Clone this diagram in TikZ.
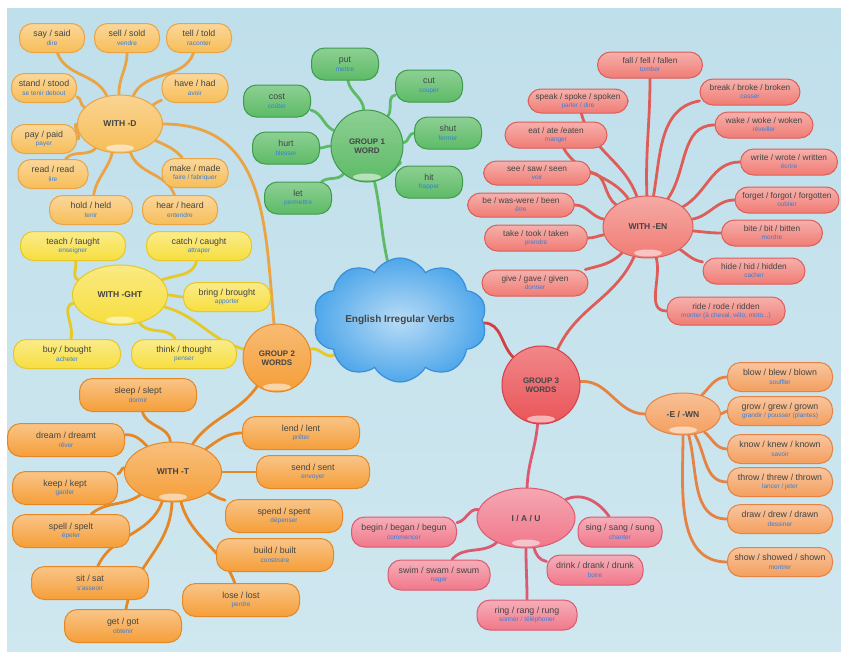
\documentclass[tikz,border=0pt]{standalone}
\usepackage{fontspec}
\setmainfont{Liberation Sans}
\usetikzlibrary{shapes.geometric,shapes.symbols,backgrounds}

\definecolor{bgtop}{HTML}{BFDFEB}
\definecolor{bgbot}{HTML}{CFE7EF}
\definecolor{ink}{HTML}{444444}
\definecolor{trblue}{HTML}{3A7DD8}
\definecolor{dOr}{HTML}{F7BD58}
\definecolor{dOrD}{HTML}{EBA443}
\definecolor{gYe}{HTML}{F7DE3E}
\definecolor{gYeD}{HTML}{E6C826}
\definecolor{tOr}{HTML}{F59E38}
\definecolor{tOrD}{HTML}{E68725}
\definecolor{grn}{HTML}{5DBB66}
\definecolor{grnD}{HTML}{3E9B4C}
\definecolor{enR}{HTML}{F07C74}
\definecolor{enRD}{HTML}{DF5D58}
\definecolor{gthR}{HTML}{EA5458}
\definecolor{gthRD}{HTML}{D43F44}
\definecolor{wnO}{HTML}{F49F5E}
\definecolor{wnOD}{HTML}{E58244}
\definecolor{iauP}{HTML}{F0788A}
\definecolor{iauPD}{HTML}{DC5A70}
\definecolor{cldB}{HTML}{4FA7EA}
\definecolor{cldD}{HTML}{3A8FD9}

% verb forms on top, French meaning below
\newcommand\vpair[2]{#1\\[-1pt]{\fontsize{6.5}{7}\selectfont\color{trblue}#2}}

\tikzset{
  leafbase/.style={rectangle, rounded corners=13pt, minimum height=29, inner sep=1pt,
    align=center, text=ink, font=\fontsize{8.8}{9.5}\selectfont, line width=1pt},
  dleaf/.style={leafbase, minimum width=66, top color=dOr!60!white, bottom color=dOr, draw=dOrD},
  gleaf/.style={leafbase, minimum width=105, top color=gYe!60!white, bottom color=gYe, draw=gYeD},
  tleaf/.style={leafbase, minimum width=117, minimum height=33, top color=tOr!60!white, bottom color=tOr, draw=tOrD},
  oneleaf/.style={leafbase, minimum width=67, minimum height=32, top color=grn!70!white, bottom color=grn, draw=grnD},
  enleaf/.style={leafbase, minimum width=102, minimum height=26, font=\fontsize{8.3}{9}\selectfont,
    top color=enR!60!white, bottom color=enR, draw=enRD},
  wnleaf/.style={leafbase, minimum width=105, top color=wnO!60!white, bottom color=wnO, draw=wnOD},
  iauleaf/.style={leafbase, minimum width=102, minimum height=30, top color=iauP!60!white, bottom color=iauP, draw=iauPD},
  gloss/.style={path picture={\fill[white, opacity=0.55]
      ([yshift=5pt]path picture bounding box.south) ellipse [x radius=14pt, y radius=3.5pt];}},
  hubbase/.style={ellipse, align=center, text=ink, font=\bfseries\fontsize{8.5}{10}\selectfont,
    line width=1pt, inner sep=0pt, gloss},
  ringhub/.style={circle, align=center, text=ink, font=\bfseries\fontsize{8}{9.5}\selectfont,
    line width=1pt, inner sep=0pt, gloss},
  con/.style={line width=2.8pt, line cap=round},
}

\begin{document}
\begin{tikzpicture}[x=1pt,y=-1pt]
\useasboundingbox (0,0) rectangle (841,651);

% ---------- central cloud ----------
\node[cloud, cloud puffs=10, cloud puff arc=120, aspect=1.65, minimum width=160, minimum height=94,
  inner color=cldB!40!white, outer color=cldB, draw=cldD, line width=1.2pt,
  text=ink, font=\bfseries\fontsize{10}{11}\selectfont] (cloud) at (400,320) {English Irregular Verbs};

% ---------- group 1 ----------
\node[ringhub, minimum size=72, top color=grn!70!white, bottom color=grn, draw=grnD] (g1) at (367,146) {GROUP 1\\WORD};
\node[oneleaf] (put)  at (345,64)  {\vpair{put}{mettre}};
\node[oneleaf] (cut)  at (429,86)  {\vpair{cut}{couper}};
\node[oneleaf] (cost) at (277,101) {\vpair{cost}{coûter}};
\node[oneleaf] (hurt) at (286,148) {\vpair{hurt}{blesser}};
\node[oneleaf] (shut) at (448,133) {\vpair{shut}{fermer}};
\node[oneleaf] (hit)  at (429,182) {\vpair{hit}{frapper}};
\node[oneleaf] (let)  at (298,198) {\vpair{let}{permettre}};

% ---------- group 2 ----------
\node[ringhub, minimum size=68, top color=tOr!70!white, bottom color=tOr, draw=tOrD] (g2) at (277,358) {GROUP 2\\WORDS};

% with -d
\node[hubbase, minimum width=85, minimum height=58, top color=dOr!65!white, bottom color=dOr, draw=dOrD] (wd) at (120,124) {WITH -D};
\node[dleaf, minimum width=65] (say)   at (52,38)   {\vpair{say / said}{dire}};
\node[dleaf, minimum width=65] (sell)  at (127,38)  {\vpair{sell / sold}{vendre}};
\node[dleaf, minimum width=65] (tell)  at (199,38)  {\vpair{tell / told}{raconter}};
\node[dleaf, minimum width=65] (stand) at (44,88)   {\vpair{stand / stood}{se tenir debout}};
\node[dleaf] (have)  at (195,88)  {\vpair{have / had}{avoir}};
\node[dleaf, minimum width=65] (pay)   at (44,139)  {\vpair{pay / paid}{payer}};
\node[dleaf, minimum width=70] (read)  at (53,174)  {\vpair{read / read}{lire}};
\node[dleaf] (make)  at (195,173) {\vpair{make / made}{faire / fabriquer}};
\node[dleaf, minimum width=83] (hold)  at (91,210)  {\vpair{hold / held}{tenir}};
\node[dleaf, minimum width=75] (hear)  at (180,210) {\vpair{hear / heard}{entendre}};

% with -ght
\node[hubbase, minimum width=95, minimum height=60, top color=gYe!65!white, bottom color=gYe, draw=gYeD] (wg) at (120,295) {WITH -GHT};
\node[gleaf] (teach) at (73,246)  {\vpair{teach / taught}{enseigner}};
\node[gleaf] (catch) at (199,246) {\vpair{catch / caught}{attraper}};
\node[gleaf, minimum width=87] (bring) at (227,297) {\vpair{bring / brought}{apporter}};
\node[gleaf, minimum width=107] (buy) at (67,354) {\vpair{buy / bought}{acheter}};
\node[gleaf] (think) at (184,354) {\vpair{think / thought}{penser}};

% with -t
\node[hubbase, minimum width=97, minimum height=60, top color=tOr!65!white, bottom color=tOr, draw=tOrD] (wt) at (173,472) {WITH -T};
\node[tleaf] (sleep) at (138,395) {\vpair{sleep / slept}{dormir}};
\node[tleaf] (dream) at (66,440)  {\vpair{dream / dreamt}{rêver}};
\node[tleaf, minimum width=105] (keep) at (65,488) {\vpair{keep / kept}{garder}};
\node[tleaf] (spell) at (71,531)  {\vpair{spell / spelt}{épeler}};
\node[tleaf] (sit)   at (90,583)  {\vpair{sit / sat}{s'asseoir}};
\node[tleaf] (get)   at (123,626) {\vpair{get / got}{obtenir}};
\node[tleaf] (lend)  at (301,433) {\vpair{lend / lent}{prêter}};
\node[tleaf, minimum width=113] (send) at (313,472) {\vpair{send / sent}{envoyer}};
\node[tleaf] (spend) at (284,516) {\vpair{spend / spent}{dépenser}};
\node[tleaf] (build) at (275,555) {\vpair{build / built}{construire}};
\node[tleaf] (lose)  at (241,600) {\vpair{lose / lost}{perdre}};

% ---------- group 3 ----------
\node[ringhub, minimum size=78, top color=gthR!70!white, bottom color=gthR, draw=gthRD] (g3) at (541,385) {GROUP 3\\WORDS};

% with -en
\node[hubbase, minimum width=90, minimum height=62, top color=enR!65!white, bottom color=enR, draw=enRD] (wen) at (648,227) {WITH -EN};
\node[enleaf, minimum width=105] (fall)  at (650,65)  {\vpair{fall / fell / fallen}{tomber}};
\node[enleaf, minimum width=100, minimum height=24] (speak) at (578,101) {\vpair{speak / spoke / spoken}{parler / dire}};
\node[enleaf, minimum width=100] (break) at (750,92)  {\vpair{break / broke / broken}{casser}};
\node[enleaf] (eat)   at (556,135) {\vpair{eat / ate /eaten}{manger}};
\node[enleaf, minimum width=98] (wake)  at (764,125) {\vpair{wake / woke / woken}{réveiller}};
\node[enleaf, minimum width=107, minimum height=24] (see) at (537,173) {\vpair{see / saw / seen}{voir}};
\node[enleaf, minimum width=97] (write) at (789,162) {\vpair{write / wrote / written}{écrire}};
\node[enleaf, minimum width=107, minimum height=24] (be) at (521,205) {\vpair{be / was-were / been}{être}};
\node[enleaf, minimum width=104] (forget) at (787,200) {\vpair{forget / forgot / forgotten}{oublier}};
\node[enleaf, minimum width=103] (take)  at (536,238) {\vpair{take / took / taken}{prendre}};
\node[enleaf, minimum width=101] (bite)  at (772,233) {\vpair{bite / bit / bitten}{mordre}};
\node[enleaf, minimum width=106] (give)  at (535,283) {\vpair{give / gave / given}{donner}};
\node[enleaf, minimum width=102] (hide)  at (754,271) {\vpair{hide / hid / hidden}{cacher}};
\node[enleaf, minimum width=118, minimum height=28] (ride) at (726,311) {\vpair{ride / rode / ridden}{monter (à cheval, vélo, moto...)}};

% -e / -wn
\node[hubbase, minimum width=75, minimum height=42, top color=wnO!65!white, bottom color=wnO, draw=wnOD] (wwn) at (683,414) {-E / -WN};
\node[wnleaf] (blow)  at (780,377) {\vpair{blow / blew / blown}{souffler}};
\node[wnleaf] (grow)  at (780,411) {\vpair{grow / grew / grown}{grandir / pousser (plantes)}};
\node[wnleaf] (know)  at (780,449) {\vpair{know / knew / known}{savoir}};
\node[wnleaf] (throw) at (780,482) {\vpair{throw / threw / thrown}{lancer / jeter}};
\node[wnleaf] (draw)  at (780,519) {\vpair{draw / drew / drawn}{dessiner}};
\node[wnleaf] (show)  at (780,562) {\vpair{show / showed / shown}{montrer}};

% i / a / u
\node[hubbase, minimum width=98, minimum height=60, top color=iauP!65!white, bottom color=iauP, draw=iauPD] (wiau) at (526,518) {I / A / U};
\node[iauleaf, minimum width=105] (begin) at (404,532) {\vpair{begin / began / begun}{commencer}};
\node[iauleaf, minimum width=84]  (sing)  at (620,532) {\vpair{sing / sang / sung}{chanter}};
\node[iauleaf] (swim)  at (439,575) {\vpair{swim / swam / swum}{nager}};
\node[iauleaf, minimum width=96]  (drink) at (595,570) {\vpair{drink / drank / drunk}{boire}};
\node[iauleaf, minimum width=100] (ring)  at (527,615) {\vpair{ring / rang / rung}{sonner / téléphoner}};

% ---------- backdrop and branches ----------
\begin{pgfonlayer}{background}
  \fill[white] (0,0) rectangle (841,651);
  \shade[top color=bgtop, bottom color=bgbot] (7,8) rectangle (841,651);

  % trunk branches
  \draw[con, grn] (g1) to[out=-78,in=102] (cloud);
  \draw[con, gYeD] (g2) to[out=15,in=208] (cloud);
  \draw[con, gthRD] (cloud) to[out=-2,in=135] (g3);

  % group 2
  \draw[con, dOrD] (wd) to[out=0,in=95,looseness=1.15] (g2);
  \draw[con, gYeD] (wg) to[out=-15,in=165] (g2);
  \draw[con, tOrD] (g2) to[out=235,in=55] (wt);

  % with -d
  \begin{scope}[every path/.style={con, dOrD}]
    \draw (wd) to[out=115,in=-70] (say);
    \draw (wd) to[out=92,in=-90] (sell);
    \draw (wd) to[out=65,in=-110] (tell);
    \draw (wd) to[out=30,in=200] (have);
    \draw (wd) to[out=155,in=-15] (stand);
    \draw (wd) to[out=180,in=0] (pay);
    \draw (wd) to[out=225,in=50] (read);
    \draw (wd) to[out=255,in=80] (hold);
    \draw (wd) to[out=-70,in=110] (hear);
    \draw (wd) to[out=-25,in=130] (make);
  \end{scope}

  % with -ght
  \begin{scope}[every path/.style={con, gYeD}]
    \draw (wg) to[out=160,in=-80] (teach);
    \draw (wg) to[out=20,in=-100] (catch);
    \draw (wg) to[out=0,in=180] (bring);
    \draw (wg) to[out=190,in=75] (buy);
    \draw (wg) to[out=-55,in=120] (think);
  \end{scope}

  % with -t
  \begin{scope}[every path/.style={con, tOrD}]
    \draw (wt) to[out=95,in=-75] (sleep);
    \draw (wt) to[out=135,in=5] (dream);
    \draw (wt) to[out=175,in=15] (keep);
    \draw (wt) to[out=215,in=40] (spell);
    \draw (wt) to[out=250,in=65] (sit);
    \draw (wt) to[out=268,in=80] (get);
    \draw (wt) to[out=-75,in=110] (lose);
    \draw (wt) to[out=35,in=180] (lend);
    \draw (wt) to[out=0,in=180] (send);
    \draw (wt) to[out=-30,in=165] (spend);
  \end{scope}

  % group 1
  \begin{scope}[every path/.style={con, grn}]
    \draw (g1) to[out=95,in=-80] (put);
    \draw (g1) to[out=55,in=195] (cut);
    \draw (g1) to[out=155,in=-15] (cost);
    \draw (g1) to[out=180,in=0] (hurt);
    \draw (g1) to[out=230,in=35] (let);
    \draw (g1) to[out=5,in=180] (shut);
    \draw (g1) to[out=-25,in=160] (hit);
  \end{scope}

  % group 3
  \draw[con, enRD] (g3) to[out=65,in=-115] (wen);
  \draw[con, wnOD] (g3) to[out=5,in=180] (wwn);
  \draw[con, iauPD] (g3) to[out=-95,in=88] (wiau);

  % with -en
  \begin{scope}[every path/.style={con, enRD}]
    \draw (wen) to[out=92,in=-90] (fall);
    \draw (wen) to[out=110,in=-75] (speak);
    \draw (wen) to[out=125,in=-60] (eat);
    \draw (wen) to[out=145,in=0] (see);
    \draw (wen) to[out=170,in=0] (be);
    \draw (wen) to[out=190,in=0] (take);
    \draw (wen) to[out=225,in=15] (give);
    \draw (wen) to[out=80,in=190] (break);
    \draw (wen) to[out=55,in=180] (wake);
    \draw (wen) to[out=30,in=180] (write);
    \draw (wen) to[out=10,in=180] (forget);
    \draw (wen) to[out=-5,in=180] (bite);
    \draw (wen) to[out=-35,in=170] (hide);
    \draw (wen) to[out=-75,in=180] (ride);
  \end{scope}

  % -e / -wn
  \begin{scope}[every path/.style={con, wnOD}]
    \draw (wwn) to[out=45,in=180] (blow);
    \draw (wwn) to[out=0,in=180] (grow);
    \draw (wwn) to[out=-40,in=180] (know);
    \draw (wwn) to[out=-60,in=180] (throw);
    \draw (wwn) to[out=-75,in=180] (draw);
    \draw (wwn) to[out=-90,in=180] (show);
  \end{scope}

  % i / a / u
  \begin{scope}[every path/.style={con, iauPD}]
    \draw (wiau) to[out=170,in=10] (begin);
    \draw (wiau) to[out=25,in=125] (sing);
    \draw (wiau) to[out=220,in=50] (swim);
    \draw (wiau) to[out=-75,in=170] (drink);
    \draw (wiau) to[out=-90,in=90] (ring);
  \end{scope}
\end{pgfonlayer}
\end{tikzpicture}
\end{document}
